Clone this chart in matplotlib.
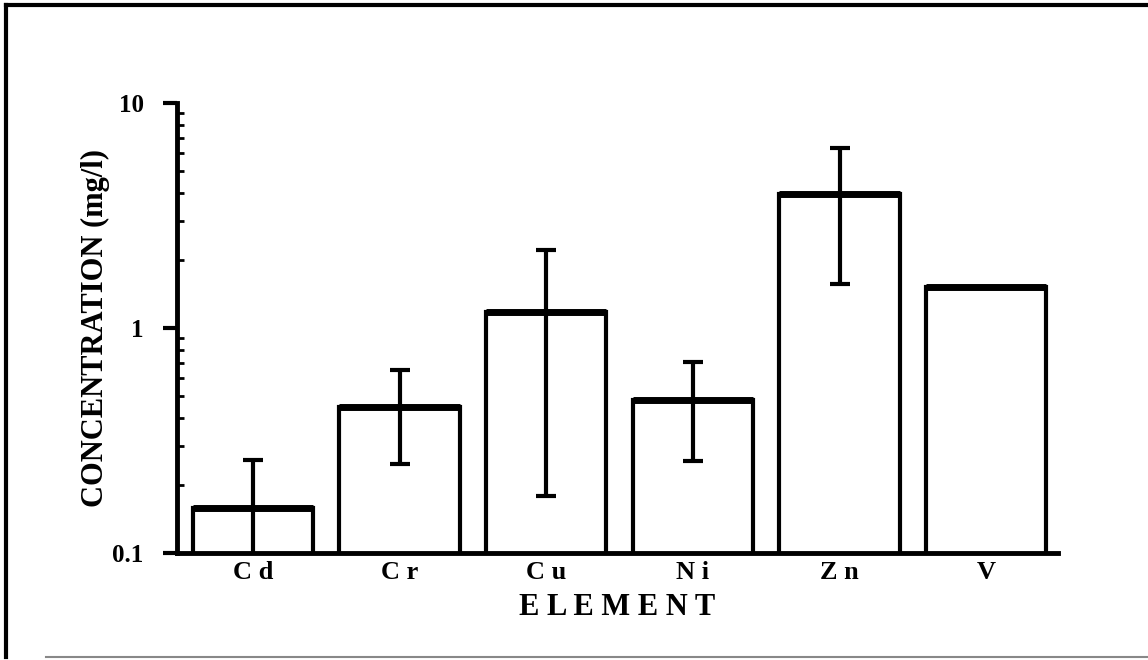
import matplotlib.pyplot as plt
import numpy as np
from matplotlib.lines import Line2D

elements = ['C d', 'C r', 'C u', 'N i', 'Z n', 'V']
conc = [0.158, 0.446, 1.18, 0.479, 3.94, 1.52]
err_low = [0.158, 0.197, 1.00, 0.222, 2.37, 0.0]
err_high = [0.101, 0.204, 1.04, 0.227, 2.36, 0.0]

plt.rcParams['font.family'] = ['Liberation Serif', 'DejaVu Serif']
plt.rcParams['font.weight'] = 'bold'

fig = plt.figure(figsize=(11.48, 6.6), dpi=100)
ax = fig.add_axes([0.1542, 0.1621, 0.7674, 0.6818])

x = np.arange(len(elements))
w = 0.82
ax.bar(x, conc, width=w, bottom=0, color='white', edgecolor='black', linewidth=3, zorder=2)
ax.hlines(conc, x - w / 2, x + w / 2, color='black', linewidth=5, zorder=3)
has_err = [i for i in range(len(conc)) if err_high[i] > 0]
ax.errorbar(x[has_err], np.array(conc)[has_err],
            yerr=[np.array(err_low)[has_err], np.array(err_high)[has_err]],
            fmt='none', ecolor='black', elinewidth=3, capsize=7, capthick=3, zorder=4)

ax.set_yscale('log')
ax.set_ylim(0.1, 10)
ax.set_xlim(-0.518, 5.49)
ax.set_yticks([0.1, 1, 10])
ax.set_yticklabels(['0.1', '1', '10'], fontsize=18, fontweight='bold')
ax.set_xticks(x)
ax.set_xticklabels(elements, fontsize=19, fontweight='bold')
ax.tick_params(axis='x', length=0, pad=6)
ax.tick_params(axis='y', which='major', direction='out', length=10, width=3, pad=14)
ax.tick_params(axis='y', which='minor', direction='in', length=5, width=2)
ax.yaxis.set_minor_formatter(plt.NullFormatter())

for s in ['top', 'right']:
    ax.spines[s].set_visible(False)
for s in ['left', 'bottom']:
    ax.spines[s].set_linewidth(3.5)

ax.set_xlabel('E L E M E N T', fontsize=22, fontweight='bold', labelpad=6)
ax.set_ylabel('CONCENTRATION (mg/l)', fontsize=22, fontweight='bold', labelpad=2)

# page frame
fig.add_artist(Line2D([0.005, 0.005], [0.005, 0.992], color='black', lw=3, transform=fig.transFigure))
fig.add_artist(Line2D([0.005, 1.0], [0.992, 0.992], color='black', lw=3, transform=fig.transFigure))
fig.add_artist(Line2D([0.04, 1.0], [0.005, 0.005], color='#888888', lw=1.5, transform=fig.transFigure))

fig.savefig('out.png', dpi=100, facecolor='white')
